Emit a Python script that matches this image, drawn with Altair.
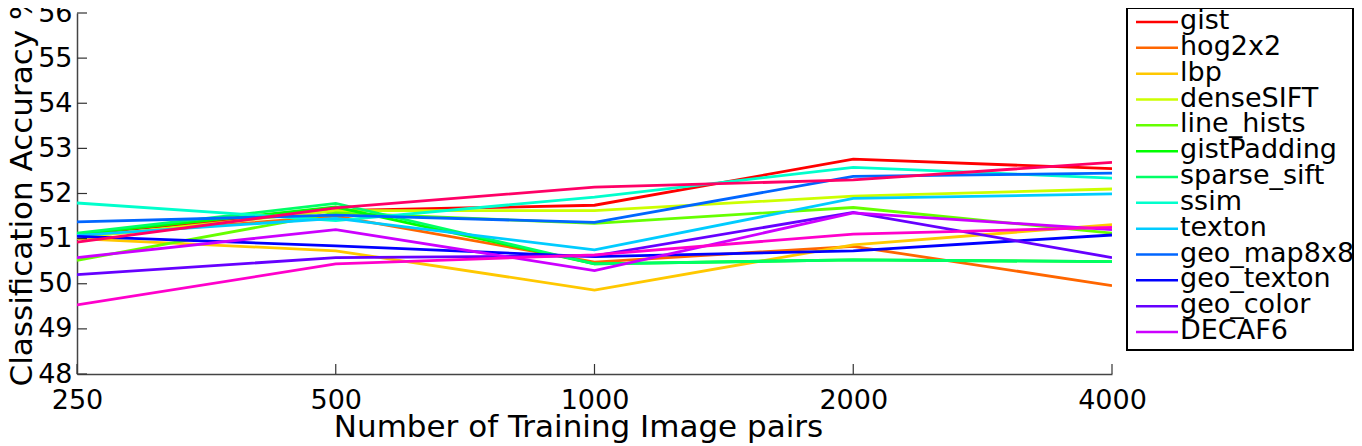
import altair as alt
import pandas as pd

x_values = [250, 500, 1000, 2000, 4000]
series_names = ["gist", "hog2x2", "lbp", "denseSIFT", "line_hists", "gistPadding",
                "sparse_sift", "ssim", "texton", "geo_map8x8", "geo_texton",
                "geo_color", "DECAF6", "series14", "series15"]
legend_names = series_names[:13]
colors = ["#FF0000", "#FF6600", "#FFC800", "#CCFF00", "#66FF00", "#00FF00",
          "#00FF66", "#00FFCC", "#00CCFF", "#0066FF", "#0000FF", "#6600FF",
          "#CC00FF", "#FF00CC", "#FF0066"]

gist = [51.10, 51.62, 51.74, 52.76, 52.55]
hog2x2 = [51.05, 51.50, 50.48, 50.83, 49.96]
lbp = [51.00, 50.73, 49.86, 50.86, 51.31]
denseSIFT = [51.02, 51.62, 51.62, 51.94, 52.10]
line_hists = [50.52, 51.57, 51.34, 51.69, 51.12]
gistPadding = [51.10, 51.70, 50.44, 50.53, 50.49]
sparse_sift = [51.12, 51.78, 50.44, 50.53, 50.49]
ssim = [51.79, 51.40, 51.92, 52.58, 52.34]
texton = [51.07, 51.45, 50.75, 51.89, 51.99]
geo_map8x8 = [51.37, 51.52, 51.36, 52.38, 52.45]
geo_texton = [51.05, 50.84, 50.60, 50.73, 51.08]
geo_color = [50.20, 50.58, 50.62, 51.58, 50.58]
DECAF6 = [50.58, 51.20, 50.29, 51.57, 51.20]
series14 = [49.53, 50.44, 50.64, 51.10, 51.25]
series15 = [50.92, 51.68, 52.14, 52.30, 52.69]

all_series = [gist, hog2x2, lbp, denseSIFT, line_hists, gistPadding, sparse_sift,
              ssim, texton, geo_map8x8, geo_texton, geo_color, DECAF6,
              series14, series15]

y_ticks = [48, 49, 50, 51, 52, 53, 54, 55, 56]

rows = []
for i, (name, vals) in enumerate(zip(series_names, all_series)):
    for xv, yv in zip(x_values, vals):
        rows.append({"series": name, "n": xv, "acc": yv, "order": i})
df = pd.DataFrame(rows)
legend_df = pd.DataFrame({"series": legend_names})
xt_df = pd.DataFrame({"n": x_values})
yt_df = pd.DataFrame({"acc": y_ticks})

W, H = 1035, 361
FONT = "DejaVu Sans"

xscale = alt.Scale(type="log", base=2, domain=[250, 4000], nice=False)
yscale = alt.Scale(domain=[48, 56], nice=False, zero=False)
cscale = alt.Scale(domain=series_names, range=colors)
lscale = alt.Scale(type="point", domain=legend_names, range=[9, 319], padding=0)

xaxis = alt.Axis(values=x_values, format="d", title="Number of Training Image pairs",
                 grid=False, ticks=False, labelFontSize=27, labelFont=FONT,
                 labelPadding=13, labelColor="black", domainColor="#444",
                 domainWidth=1.5, titleFont=FONT, titleFontSize=31,
                 titleFontWeight="normal", titleColor="black", titleX=501,
                 titleY=62, titleBaseline="alphabetic", titleAlign="center",
                 labelFlush=False)

lines = alt.Chart(df).mark_line(strokeWidth=2.8, clip=True).encode(
    x=alt.X("n:Q", scale=xscale, axis=xaxis),
    y=alt.Y("acc:Q", scale=yscale,
            axis=alt.Axis(values=y_ticks, format="d", title="Classification Accuracy %",
                          grid=False, ticks=False, labelFontSize=27, labelFont=FONT,
                          labelPadding=5, labelColor="black", domainColor="#444",
                          domainWidth=1.5, titleFont=FONT, titleFontSize=31,
                          titleFontWeight="normal", titleColor="black", titleX=-46,
                          titleY=175, titleBaseline="alphabetic", titleAlign="center",
                          titleAngle=-90, labelFlush=False)),
    color=alt.Color("series:N", scale=cscale, legend=None),
    order=alt.Order("order:Q"),
)

xticks = alt.Chart(xt_df).mark_rule(color="#333", strokeWidth=1.2).encode(
    x=alt.X("n:Q", scale=xscale, axis=xaxis),
    y=alt.value(H),
    y2=alt.value(H - 10),
)

yticks = alt.Chart(yt_df).mark_rule(color="#333", strokeWidth=1.2).encode(
    y=alt.Y("acc:Q", scale=yscale, axis=None),
    x=alt.value(0),
    x2=alt.value(10),
)

legend_box = alt.Chart(legend_df).mark_rect(fill="white", stroke="black", strokeWidth=2).encode(
    x=alt.value(1050), x2=alt.value(1276), y=alt.value(-5), y2=alt.value(337),
)

legend_lines = alt.Chart(legend_df).mark_rule(strokeWidth=2.5).encode(
    y=alt.Y("series:N", scale=lscale, axis=None),
    x=alt.value(1059),
    x2=alt.value(1101),
    color=alt.Color("series:N", scale=cscale, legend=None),
)

legend_text = alt.Chart(legend_df).mark_text(
    align="left", baseline="middle", fontSize=27, font=FONT, color="black", dy=-1
).encode(
    y=alt.Y("series:N", scale=lscale, axis=None),
    x=alt.value(1103),
    text="series:N",
)

chart = alt.layer(
    lines, xticks, yticks, legend_box, legend_lines, legend_text
).resolve_scale(y="independent").properties(
    width=W, height=H,
    autosize=alt.AutoSizeParams(type="none"),
    padding={"left": 69, "top": 5, "right": 242, "bottom": 72},
).configure_view(stroke=None)

chart.save("out.html", embed_options={"renderer": "svg", "actions": False})
